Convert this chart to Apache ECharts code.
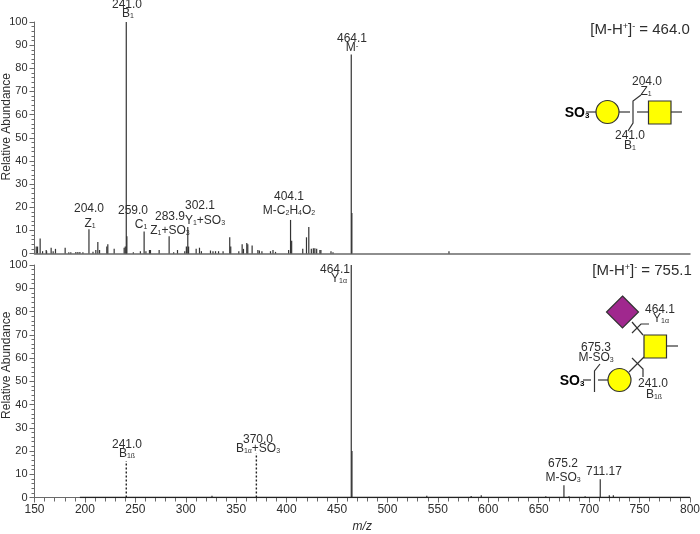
<!DOCTYPE html>
<html>
<head>
<meta charset="utf-8">
<style>
  html, body { margin: 0; padding: 0; background: #fff; }
  #main { width: 700px; height: 534px; }
</style>
</head>
<body>
<div id="main"></div>
<script src="https://cdn.jsdelivr.net/npm/echarts@6/dist/echarts.min.js"></script>
<script>
// spectrum 1, [M-H+]- = 464.0
const topMz = [151.7, 153, 155.6, 158, 161.6, 162, 166.5, 168.5, 170.8, 180.4, 184, 186, 191, 193, 195, 198, 204, 208,
  210.8, 212.8, 214.5, 221.7, 222.7, 229, 238.9, 240, 241, 241.6, 248, 255, 258.7, 260.5, 264, 265, 273.6, 283.5, 288,
  291.8, 299, 300.6, 302, 302.8, 310.3, 313.6, 315.5, 324.5, 327, 329.5, 332.5, 337, 343.6, 344.6, 352.6, 355.9,
  357.2, 360.5, 361.5, 365.8, 371.5, 373, 375.5, 384, 386.5, 389, 402, 403.9, 405, 416, 419.7, 422, 424.5, 426.5,
  428, 429.8, 433, 434, 444, 446, 464.1, 464.7, 561];
const topAbundance = [3, 3, 6.5, 1, 1.5, 1, 2.5, 1, 2, 2.5, 0.5, 0.5, 0.7, 0.7, 0.7, 0.5, 10.5, 0.8,
  1.5, 5, 1.5, 3, 4, 2, 2.5, 3, 100, 7.5, 0.5, 1, 9.5, 1, 1.5, 1.5, 1.5, 7.5, 0.5,
  1.5, 1, 3, 11.5, 3, 2, 2.5, 1, 1.3, 1, 1, 1, 1, 7, 3, 1, 4,
  2, 4.5, 4, 3.5, 1.5, 1.3, 1, 1, 1.5, 0.7, 1.5, 14.5, 5.5, 2, 7, 11.5, 2, 2.3,
  2.3, 2, 1.5, 1.5, 1, 0.5, 86, 17.5, 1];

// spectrum 2, [M-H+]- = 755.1
const bottomMz = [326, 464.1, 464.8, 539, 583, 593, 657, 675, 680, 696, 711, 720, 724];
const bottomAbundance = [0.8, 100, 20, 0.7, 0.6, 1, 0.5, 5.3, 0.5, 0.5, 7.9, 1, 1];
const dashedMz = [241, 370];
const dashedAbundance = [15.7, 19];
const baselineMz = [195, 800];
const baselineAbundance = [0, 0];

const textColor = '#2e2e2e';
const axisColor = '#6a6a6a';

const chart = echarts.init(document.getElementById('main'));

function sticks(width, color, dash) {
  return function (params, api) {
    const a = api.coord([api.value(0), 0]);
    const b = api.coord([api.value(0), api.value(1)]);
    return {
      type: 'line',
      shape: { x1: a[0], y1: a[1], x2: b[0], y2: b[1] },
      style: { stroke: color, lineWidth: width, lineDash: dash || null }
    };
  };
}

function stickSeries(xs, ys, idx, width, color, dash) {
  return {
    type: 'custom',
    xAxisIndex: idx,
    yAxisIndex: idx,
    silent: true,
    renderItem: sticks(width, color, dash),
    encode: { x: 0, y: 1 },
    data: xs.map((x, i) => [x, ys[i]])
  };
}

const rich = {
  n: { fontSize: 12, fontFamily: 'Liberation Sans', fill: textColor, color: textColor },
  s: { fontSize: 7, fontFamily: 'Liberation Sans', fill: textColor, color: textColor, verticalAlign: 'bottom' },
  u: { fontSize: 8, fontFamily: 'Liberation Sans', fill: textColor, color: textColor, verticalAlign: 'top' },
  t: { fontSize: 15, fontFamily: 'Liberation Sans', fill: textColor, color: textColor },
  ts: { fontSize: 9, fontFamily: 'Liberation Sans', fill: textColor, color: textColor, verticalAlign: 'top' },
  b: { fontSize: 14, fontWeight: 'bold', fontFamily: 'Liberation Sans', fill: '#000', color: '#000' },
  bs: { fontSize: 8, fontWeight: 'bold', fontFamily: 'Liberation Sans', fill: '#000', color: '#000', verticalAlign: 'bottom' }
};

function label(text, x, y) {
  return {
    type: 'text',
    z: 20,
    silent: true,
    style: { text: text, x: x, y: y, align: 'center', verticalAlign: 'middle', rich: rich, font: '12px "Liberation Sans"', fill: textColor }
  };
}

function stroke(points) {
  return {
    type: 'polyline',
    z: 10,
    silent: true,
    shape: { points: points },
    style: { stroke: '#333', lineWidth: 1.2, fill: null }
  };
}

const labels = [
  ['{n|241.0}', 127, 5], ['{n|B}{s|1}', 128, 14],
  ['{n|464.1}', 352, 39], ['{n|M}{u|-}', 352, 48],
  ['{n|204.0}', 89, 209], ['{n|Z}{s|1}', 90, 224],
  ['{n|259.0}', 133, 211], ['{n|C}{s|1}', 141, 225],
  ['{n|283.9}', 170, 217], ['{n|Z}{s|1}{n|+SO}{s|3}', 170, 231],
  ['{n|302.1}', 200, 206], ['{n|Y}{s|1}{n|+SO}{s|3}', 205, 221],
  ['{n|404.1}', 289, 197], ['{n|M-C}{s|2}{n|H}{s|4}{n|O}{s|2}', 289, 211],
  ['{t|[M-H}{ts|+}{t|]}{ts|-}{t| = 464.0}', 640, 30],
  ['{n|464.1}', 335, 270], ['{n|Y}{s|1α}', 339, 279],
  ['{n|241.0}', 127, 445], ['{n|B}{s|1ß}', 127, 454],
  ['{n|370.0}', 258, 440], ['{n|B}{s|1α}{n|+SO}{s|3}', 258, 449],
  ['{n|675.2}', 563, 464], ['{n|M-SO}{s|3}', 563, 478],
  ['{n|711.17}', 604, 472],
  ['{t|[M-H}{ts|+}{t|]}{ts|-}{t| = 755.1}', 642, 271],
  // glycan labels
  ['{b|SO}{bs|3}', 577, 113], ['{n|204.0}', 647, 82], ['{n|Z}{s|1}', 646, 92], ['{n|241.0}', 630, 136], ['{n|B}{s|1}', 630, 146],
  ['{b|SO}{bs|3}', 572, 381], ['{n|464.1}', 660, 310], ['{n|Y}{s|1α}', 661, 319],
  ['{n|675.3}', 596, 348], ['{n|M-SO}{s|3}', 596, 358], ['{n|241.0}', 653, 384], ['{n|B}{s|1ß}', 654, 395]
];

const shapes = [
  // first glycan
  stroke([[586, 112], [597, 112]]), stroke([[619, 112], [630, 112]]), stroke([[637, 112], [648, 112]]), stroke([[671, 112], [682, 112]]),
  stroke([[628, 131], [633, 123], [633, 101], [641, 95]]),
  { type: 'circle', z: 12, silent: true, shape: { cx: 607.5, cy: 112, r: 11.5 }, style: { fill: '#ffff00', stroke: '#333', lineWidth: 1.2 } },
  { type: 'rect', z: 12, silent: true, shape: { x: 648.5, y: 101, width: 22.5, height: 23 }, style: { fill: '#ffff00', stroke: '#333', lineWidth: 1.2 } },
  // second glycan
  stroke([[632, 322], [643, 335]]), stroke([[632, 333], [641, 324], [649, 324]]),
  stroke([[667, 346], [678, 346]]), stroke([[629, 372], [644, 357]]),
  stroke([[632, 358], [643, 369], [643, 377]]), stroke([[583, 380], [591, 380]]), stroke([[598, 380], [608, 380]]),
  stroke([[594.5, 392], [594.5, 371], [600, 364]]),
  { type: 'polygon', z: 12, silent: true, shape: { points: [[622.5, 296], [638.5, 312], [622.5, 328], [606.5, 312]] }, style: { fill: '#a0288e', stroke: '#333', lineWidth: 1.2 } },
  { type: 'rect', z: 12, silent: true, shape: { x: 644, y: 335, width: 22.5, height: 23 }, style: { fill: '#ffff00', stroke: '#333', lineWidth: 1.2 } },
  { type: 'circle', z: 12, silent: true, shape: { cx: 619.5, cy: 380, r: 11.5 }, style: { fill: '#ffff00', stroke: '#333', lineWidth: 1.2 } }
];

function yAxis(idx, pad) {
  return {
    type: 'value',
    gridIndex: idx,
    min: 0,
    max: 100,
    interval: 10,
    name: 'Relative Abundance',
    nameLocation: 'middle',
    nameGap: 22,
    nameRotate: 90,
    nameMoveOverlap: false,
    nameTextStyle: { fontSize: 12, fontFamily: 'Liberation Sans', color: textColor, padding: pad },
    axisLine: { show: true, onZero: false, lineStyle: { color: axisColor, width: 1 } },
    axisTick: { show: true, length: 5, lineStyle: { color: axisColor } },
    minorTick: { show: true, splitNumber: 5, length: 3, lineStyle: { color: axisColor } },
    axisLabel: { fontSize: 11, fontFamily: 'Liberation Sans', color: textColor, margin: 7, showMinLabel: true, showMaxLabel: true },
    splitLine: { show: false }
  };
}

chart.setOption({
  animation: false,
  backgroundColor: '#fff',
  grid: [
    { left: 34.5, right: 10, top: 22, bottom: 280.5, outerBoundsMode: 'none' },
    { left: 34.5, right: 10, top: 265, bottom: 36.5, outerBoundsMode: 'none' }
  ],
  xAxis: [
    {
      type: 'value', gridIndex: 0, min: 150, max: 800, interval: 50,
      axisLine: { show: true, onZero: false, lineStyle: { color: axisColor, width: 1.5 } },
      axisTick: { show: false }, axisLabel: { show: false }, splitLine: { show: false }
    },
    {
      type: 'value', gridIndex: 1, min: 150, max: 800, interval: 50,
      name: 'm/z', nameLocation: 'middle', nameGap: 23, nameMoveOverlap: false,
      nameTextStyle: { fontSize: 12, fontStyle: 'italic', fontFamily: 'Liberation Sans', color: textColor },
      axisLine: { show: true, onZero: false, lineStyle: { color: axisColor, width: 1 } },
      axisTick: { show: true, length: 5, lineStyle: { color: axisColor } },
      minorTick: { show: true, splitNumber: 5, length: 4, lineStyle: { color: axisColor } },
      axisLabel: { fontSize: 12, fontFamily: 'Liberation Sans', color: textColor, margin: 6, showMinLabel: true, showMaxLabel: true },
      splitLine: { show: false }
    }
  ],
  yAxis: [yAxis(0, [0, 0, 0, 22]), yAxis(1, [0, 0, 0, 32])],
  series: [
    stickSeries(topMz, topAbundance, 0, 1.2, '#333'),
    stickSeries(bottomMz, bottomAbundance, 1, 1.2, '#333'),
    stickSeries(dashedMz, dashedAbundance, 1, 1.4, '#222', [2, 2]),
    {
      type: 'line',
      xAxisIndex: 1,
      yAxisIndex: 1,
      silent: true,
      symbol: 'none',
      lineStyle: { color: '#222', width: 1.5 },
      data: baselineMz.map((x, i) => [x, baselineAbundance[i]])
    }
  ],
  graphic: labels.map(l => label(l[0], l[1], l[2])).concat(shapes)
});
</script>
</body>
</html>
